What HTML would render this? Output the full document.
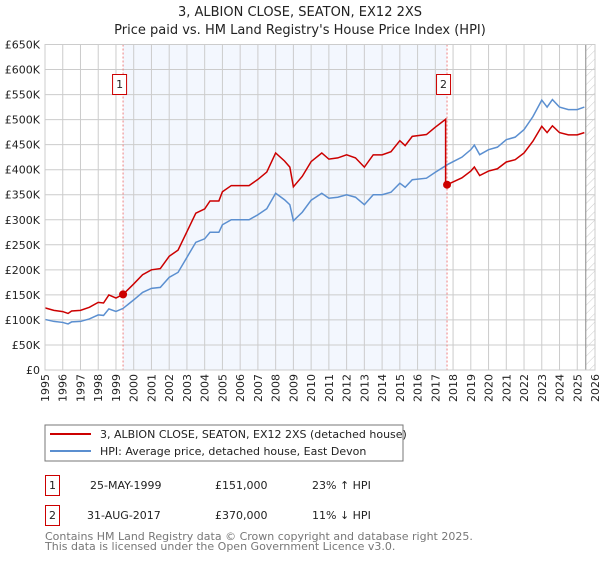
<!DOCTYPE html>
<html><head><meta charset="utf-8"><style>
body{margin:0;background:#fff;font-family:"DejaVu Sans","Liberation Sans",sans-serif}
svg text{font-family:"DejaVu Sans","Liberation Sans",sans-serif}
</style></head><body>
<svg id="c" width="600" height="560" viewBox="0 0 600 560">
<defs><pattern id="hatch" width="6" height="6" patternUnits="userSpaceOnUse" patternTransform="rotate(45)"><line x1="0" y1="0" x2="0" y2="6" stroke="#ccc" stroke-width="1"/></pattern></defs>
<text x="300" y="16" text-anchor="middle" font-size="13" fill="#222">3, ALBION CLOSE, SEATON, EX12 2XS</text>
<text x="300" y="34" text-anchor="middle" font-size="13" fill="#222">Price paid vs. HM Land Registry's House Price Index (HPI)</text>
<g id="plot"></g>
<rect x="45" y="425" width="358" height="36" fill="#fff" stroke="#777"/>
<line x1="50" y1="434" x2="91" y2="434" stroke="#cc0000" stroke-width="2"/>
<text x="100" y="438" font-size="11" fill="#222">3, ALBION CLOSE, SEATON, EX12 2XS (detached house)</text>
<line x1="50" y1="451" x2="91" y2="451" stroke="#5b8fd0" stroke-width="2"/>
<text x="100" y="455" font-size="11" fill="#222">HPI: Average price, detached house, East Devon</text>
<g font-size="11" fill="#222">
<rect x="45.5" y="475.5" width="14" height="20" fill="none" stroke="#cc0000"/>
<text x="52.5" y="489" text-anchor="middle">1</text>
<text x="90" y="489">25-MAY-1999</text>
<text x="215" y="489">£151,000</text>
<text x="312" y="489">23% ↑ HPI</text>
<rect x="45.5" y="505.5" width="14" height="20" fill="none" stroke="#cc0000"/>
<text x="52.5" y="519" text-anchor="middle">2</text>
<text x="87" y="519">31-AUG-2017</text>
<text x="215" y="519">£370,000</text>
<text x="312" y="519">11% ↓ HPI</text>
</g>
<text x="45" y="540" font-size="11" fill="#777">Contains HM Land Registry data © Crown copyright and database right 2025.</text>
<text x="45" y="550" font-size="11" fill="#777">This data is licensed under the Open Government Licence v3.0.</text>
</svg>
<script>
const yTicks=[0,50,100,150,200,250,300,350,400,450,500,550,600,650];
const yTickLabels=["£0","£50K","£100K","£150K","£200K","£250K","£300K","£350K","£400K","£450K","£500K","£550K","£600K","£650K"];
const years=[1995,1996,1997,1998,1999,2000,2001,2002,2003,2004,2005,2006,2007,2008,2009,2010,2011,2012,2013,2014,2015,2016,2017,2018,2019,2020,2021,2022,2023,2024,2025,2026];
const hpiT=[1995,1995.5,1996,1996.3,1996.5,1997,1997.5,1998,1998.3,1998.6,1999,1999.4,2000,2000.5,2001,2001.5,2002,2002.5,2003,2003.5,2004,2004.3,2004.8,2005,2005.5,2006,2006.5,2007,2007.5,2008,2008.5,2008.8,2009,2009.5,2010,2010.6,2011,2011.5,2012,2012.5,2013,2013.5,2014,2014.5,2015,2015.3,2015.7,2016.5,2017,2017.5,2017.67,2018,2018.5,2019,2019.2,2019.5,2020,2020.5,2021,2021.5,2022,2022.5,2023,2023.3,2023.6,2024,2024.5,2025,2025.4];
const hpiV=[101,97,95,92,96,97,102,110,109,122,117,123,140,155,163,165,185,195,225,255,262,275,275,290,300,300,300,310,322,353,340,330,298,315,339,353,343,345,350,345,330,350,350,355,373,365,380,383,395,406,410,416,425,440,449,430,440,445,460,465,480,506,539,525,540,525,520,520,525];
const saleT=[1999.4,2017.66];
const saleV=[151,370];
const X0=45,X1=595,Y0=370,Y1=44.5;
const x=t=>X0+(t-1995)/(2026-1995)*(X1-X0);
const y=v=>Y0-v/650*(Y0-Y1);
const ns="http://www.w3.org/2000/svg",g=document.getElementById('plot');
function mk(tag,attrs){const e=document.createElementNS(ns,tag);for(const k in attrs)e.setAttribute(k,attrs[k]);g.appendChild(e);return e;}
let e;
e=mk('rect',{x:X0,y:Y1,width:X1-X0,height:Y0-Y1,fill:'#fff'});


e=mk('rect',{x:x(saleT[0]),y:Y1,width:x(saleT[1])-x(saleT[0]),height:Y0-Y1,fill:'#eef3fd',opacity:0.7});


e=mk('rect',{x:x(2025.48),y:Y1,width:X1-x(2025.48),height:Y0-Y1,fill:'url(#hatch)'});


yTicks.forEach((v,i)=>{
 e=mk('line',{x1:X0,x2:X1,y1:y(v),y2:y(v),stroke:'#ccc'});
 
 
 e=mk('text',{x:40,y:y(v)+4,'text-anchor':'end','font-size':11,fill:'#222'});e.textContent=yTickLabels[i];
 
 
});
years.forEach(yr=>{
 e=mk('line',{x1:x(yr),x2:x(yr),y1:Y1,y2:Y0,stroke:'#ccc'});
 
 
 e=mk('text',{x:0,y:0,'text-anchor':'end','font-size':11,fill:'#222',transform:`translate(${x(yr)+4},374) rotate(-90)`});e.textContent=yr;
 
 
});
e=mk('line',{x1:x(2025.48),x2:x(2025.48),y1:Y1,y2:Y0,stroke:'#888'});


saleT.forEach((t,i)=>{
 e=mk('line',{x1:x(t),x2:x(t),y1:Y1,y2:Y0,stroke:'#f08080','stroke-dasharray':'2,2'});
 
 
});
function interp(t){for(let i=1;i<hpiT.length;i++){if(t<=hpiT[i]){const f=(t-hpiT[i-1])/(hpiT[i]-hpiT[i-1]);return hpiV[i-1]+f*(hpiV[i]-hpiV[i-1]);}}return hpiV[hpiV.length-1];}
e=mk('polyline',{points:hpiT.map((t,i)=>x(t)+','+y(hpiV[i])).join(' '),fill:'none',stroke:'#5b8fd0','stroke-width':1.5});


const r1=saleV[0]/interp(saleT[0]),r2=saleV[1]/interp(saleT[1]);
let pts=[];
hpiT.forEach((t,i)=>{if(t<saleT[1])pts.push([t,hpiV[i]*r1]);});
pts.push([saleT[1]-0.08,interp(saleT[1]-0.08)*r1]);
pts.push([saleT[1]-0.08,saleV[1]]);
hpiT.forEach((t,i)=>{if(t>=saleT[1])pts.push([t,hpiV[i]*r2]);});
e=mk('polyline',{points:pts.map(p=>x(p[0])+','+y(p[1])).join(' '),fill:'none',stroke:'#cc0000','stroke-width':1.5});


saleT.forEach((t,i)=>{
 e=mk('circle',{cx:x(t),cy:y(saleV[i]),r:4,fill:'#cc0000'});
 
 
 const bx=x(t)-3.5;
 e=mk('rect',{x:bx-7,y:74.5,width:14,height:20,fill:'#fff',stroke:'#cc0000'});
 
 
 e=mk('text',{x:bx,y:88,'text-anchor':'middle','font-size':11,fill:'#222'});e.textContent=String(i+1);
 
 
});
e=mk('rect',{x:X0,y:Y1,width:X1-X0,height:Y0-Y1,fill:'none',stroke:'#ccc'});


</script>
</body></html>
